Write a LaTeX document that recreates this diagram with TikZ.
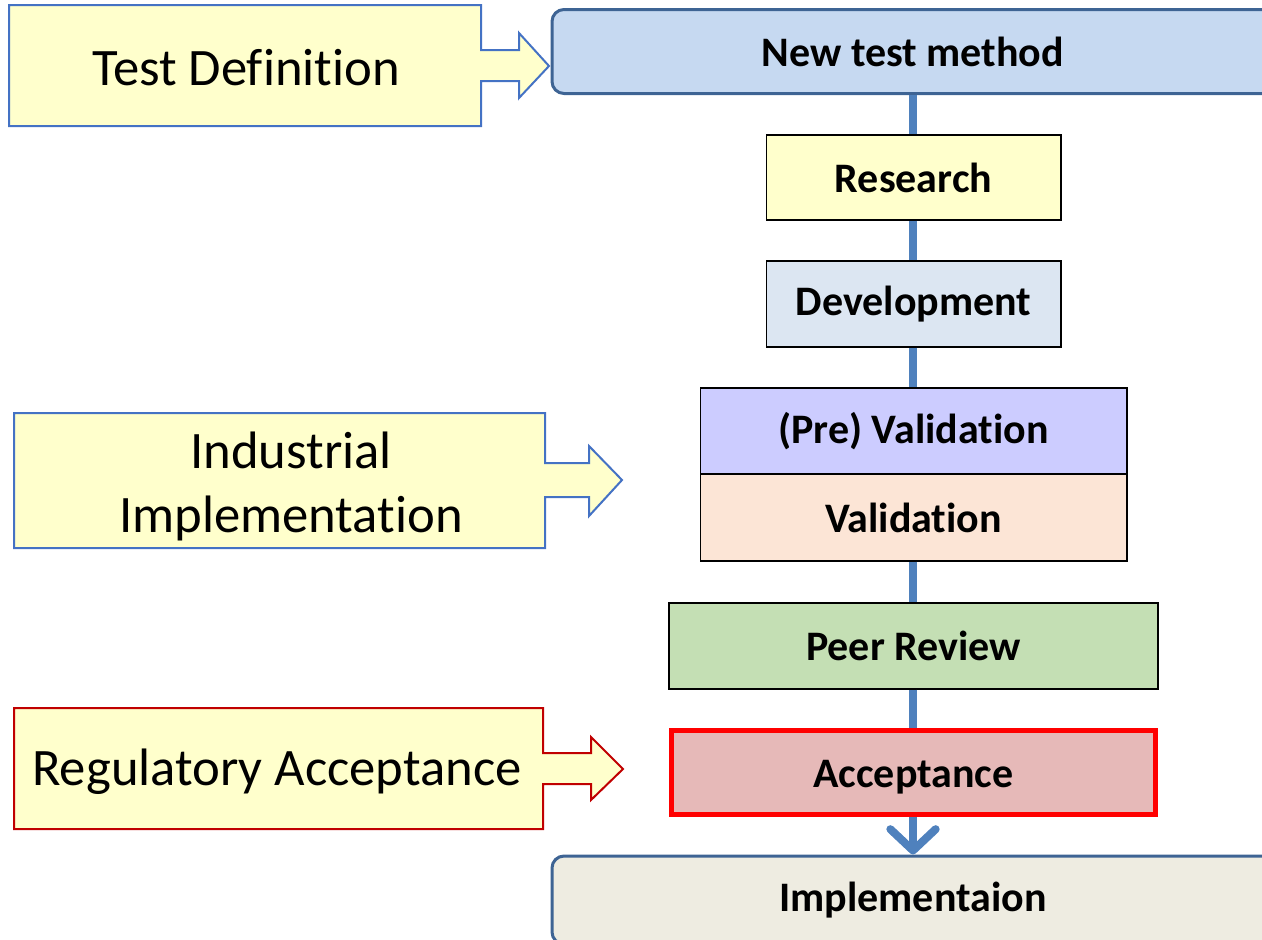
\documentclass[tikz,border=0pt]{standalone}
\usepackage{fontspec}
\setmainfont{Carlito}[Ligatures={NoCommon,NoContextual},RawFeature={-liga;-clig;-calt}]
\usetikzlibrary{arrows.meta}

\definecolor{topblue}{RGB}{62,100,148}
\definecolor{headfill}{RGB}{198,217,241}
\definecolor{linkblue}{RGB}{79,129,189}
\definecolor{calloutyellow}{RGB}{255,255,204}
\definecolor{calloutblue}{RGB}{68,114,196}
\definecolor{calloutred}{RGB}{192,0,0}
\definecolor{devfill}{RGB}{220,230,242}
\definecolor{prefill}{RGB}{204,204,255}
\definecolor{validfill}{RGB}{252,229,214}
\definecolor{peerfill}{RGB}{196,223,180}
\definecolor{acceptfill}{RGB}{230,185,184}
\definecolor{implfill}{RGB}{238,236,225}

\tikzset{every picture/.style={line width=0.75pt}}
\tikzset{
  stepbox/.style={draw=black, line width=1pt, inner sep=0pt, font=\fontsize{31.5}{38}\selectfont\bfseries},
  headbox/.style={draw=topblue, line width=2.25pt, rounded corners=9pt, inner sep=0pt, minimum width=541.5pt, font=\fontsize{31.5}{38}\selectfont\bfseries},
  link/.style={draw=linkblue, line width=6pt},
  callout/.style={fill=calloutyellow, line width=1.5pt},
  callouttext/.style={inner sep=0pt, align=center, font=\fontsize{39.5}{48}\selectfont}
}

\begin{document}
\begin{tikzpicture}[x=0.75pt,y=0.75pt,yscale=-1,xscale=1]
\useasboundingbox (0,0) rectangle (1262,939);

%Shape: Callout Test Definition
\draw [callout, draw=calloutblue] (9,5) -- (481,5) -- (481,50) -- (519,50) -- (519,33) -- (549,66) -- (519,98) -- (519,81) -- (481,81) -- (481,126) -- (9,126) -- cycle ;
%Shape: Callout Industrial Implementation
\draw [callout, draw=calloutblue] (14,413) -- (545,413) -- (545,463) -- (589,463) -- (589,446) -- (622,480) -- (589,516) -- (589,497) -- (545,497) -- (545,548) -- (14,548) -- cycle ;
%Shape: Callout Regulatory Acceptance
\draw [callout, draw=calloutred] (14,708) -- (543,708) -- (543,753) -- (591,753) -- (591,737) -- (623,769) -- (591,800) -- (591,784) -- (543,784) -- (543,829) -- (14,829) -- cycle ;

% Text Node
\node [callouttext] (testdef) at (246,68) {Test Definit\kern0pt ion};
% Text Node
\node [callouttext] (indimpl) at (291,486) {Industrial\\Implementat\kern0pt ion};
% Text Node
\node [callouttext] (regacc) at (277,772) {Regulatory Acceptance};

%Shape: Rounded Rect
\node [headbox, fill=headfill, minimum height=63pt] (newtest) at (913,51.5) {New test method};
%Shape: Rectangle
\node [stepbox, fill=calloutyellow, minimum width=221pt, minimum height=63.75pt] (research) at (913.5,177.5) {Research};
%Shape: Rectangle
\node [stepbox, fill=devfill, minimum width=221pt, minimum height=64.5pt] (devel) at (913.5,304) {Development};
%Shape: Rectangle
\node [stepbox, fill=prefill, minimum width=320pt, minimum height=64.5pt] (prevalid) at (913.5,431) {(Pre) Validat\kern0pt ion};
%Shape: Rectangle
\node [stepbox, fill=validfill, minimum width=320pt, minimum height=65pt] (valid) at (913.5,517.5) {Validat\kern0pt ion};
%Shape: Rectangle
\node [stepbox, fill=peerfill, minimum width=366.75pt, minimum height=64.5pt] (peer) at (913.5,646) {Peer Review};
%Shape: Rectangle
\node [stepbox, fill=acceptfill, draw=red, line width=3.75pt, minimum width=363pt, minimum height=63pt, text height=27pt, text depth=5pt] (accept) at (913.5,772.5) {Acceptance};
%Shape: Rounded Rect
\node [headbox, fill=implfill, minimum height=66pt] (impl) at (913,900) {Implementaion};

%Straight Lines
\draw [link] (newtest.south -| 913,0) -- (research.north -| 913,0) ;
\draw [link] (research.south -| 913,0) -- (devel.north -| 913,0) ;
\draw [link] (devel.south -| 913,0) -- (prevalid.north -| 913,0) ;
\draw [link] (valid.south -| 913,0) -- (peer.north -| 913,0) ;
\draw [link] (peer.south -| 913,0) -- (accept.north -| 913,0) ;
\draw [link, -{Straight Barb[length=16pt,width=34pt,round]}] (accept.south -| 913,0) -- (impl.north -| 913,0) ;

\end{tikzpicture}
\end{document}
